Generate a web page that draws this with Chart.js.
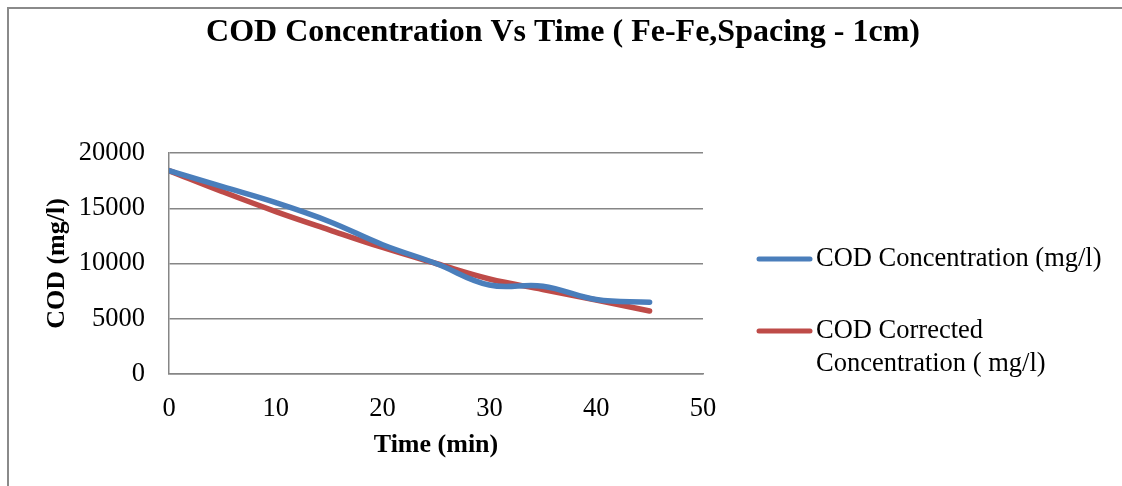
<!DOCTYPE html>
<html>
<head>
<meta charset="utf-8">
<title>COD Concentration Vs Time</title>
<script src="https://cdn.jsdelivr.net/npm/chart.js@4/dist/chart.umd.min.js"></script>
<style>
  html, body { margin: 0; padding: 0; background: #fff; }
  #wrap { width: 1122px; height: 486px; position: relative; }
</style>
</head>
<body>
<div id="wrap"><canvas id="codChart"></canvas></div>
<script>
// sampling times (min) and measured / corrected COD (mg/l)
const times = [0, 5, 10, 15, 20, 25, 30, 35, 40, 45];
const codConc = [18400, 16950, 15500, 13800, 11700, 10000, 8050, 7950, 6750, 6500];
const codCorrected = [18400, 16500, 14700, 13050, 11450, 10000, 8600, 7650, 6700, 5700];

const seriesNames = ['COD Concentration (mg/l)', ['COD Corrected', 'Concentration ( mg/l)']];
const seriesColors = ['#4A7EBB', '#BE4B48'];
const chartTitle = 'COD Concentration Vs Time ( Fe-Fe,Spacing - 1cm)';

const serif = "'Liberation Serif', 'Times New Roman', serif";

function points(ys) {
  return times.map((t, i) => ({ x: t, y: ys[i] }));
}

// grey frame round the whole chart, plus the centred title
const framePlugin = {
  id: 'frame',
  beforeDraw(chart) {
    const ctx = chart.ctx;
    ctx.save();
    ctx.strokeStyle = '#8a8a8a';
    ctx.lineWidth = 2;
    ctx.beginPath();
    ctx.moveTo(8, chart.height);
    ctx.lineTo(8, 8);
    ctx.lineTo(chart.width, 8);
    ctx.stroke();

    ctx.font = 'bold 32px ' + serif;
    ctx.fillStyle = '#000';
    ctx.textAlign = 'center';
    ctx.textBaseline = 'middle';
    ctx.fillText(chartTitle, 563, 33);
    ctx.restore();
  }
};

// legend on the right, second entry wraps onto two lines
const sideLegend = {
  id: 'sideLegend',
  afterDraw(chart) {
    const ctx = chart.ctx;
    const rows = [259, 331];
    ctx.save();
    ctx.font = '26.5px ' + serif;
    ctx.textBaseline = 'middle';
    ctx.fillStyle = '#000';
    rows.forEach((y, i) => {
      ctx.strokeStyle = seriesColors[i];
      ctx.lineWidth = 5;
      ctx.lineCap = 'round';
      ctx.beginPath();
      ctx.moveTo(759, y);
      ctx.lineTo(810, y);
      ctx.stroke();
      const lines = [].concat(seriesNames[i]);
      lines.forEach((txt, j) => ctx.fillText(txt, 816, y + j * 33));
    });
    ctx.restore();
  }
};

const ctx = document.getElementById('codChart').getContext('2d');

const codChart = new Chart(ctx, {
  type: 'scatter',
  data: {
    datasets: [{
      label: 'COD Concentration (mg/l)',
      data: points(codConc),
      borderColor: seriesColors[0],
      backgroundColor: seriesColors[0],
      borderWidth: 5.5,
      showLine: true,
      tension: 0.4,
      pointRadius: 0,
      borderCapStyle: 'round'
    }, {
      label: 'COD Corrected Concentration ( mg/l)',
      data: points(codCorrected),
      borderColor: seriesColors[1],
      backgroundColor: seriesColors[1],
      borderWidth: 5.5,
      showLine: true,
      tension: 0.4,
      pointRadius: 0,
      borderCapStyle: 'round'
    }]
  },
  options: {
    responsive: true,
    maintainAspectRatio: false,
    animation: false,
    layout: { padding: { left: 0, right: 419, top: 153, bottom: 0 } },
    plugins: {
      legend: { display: false },
      tooltip: { enabled: false },
      title: { display: false }
    },
    scales: {
      x: {
        type: 'linear',
        min: 0,
        max: 50,
        ticks: { stepSize: 10, color: '#000', padding: 19, font: { family: serif, size: 26.5 } },
        grid: { display: false, drawTicks: false },
        border: { color: '#868686', width: 1.5 },
        title: {
          display: true,
          text: 'Time (min)',
          color: '#000',
          font: { family: serif, size: 26, weight: 'bold' },
          padding: { top: 0, bottom: 25 }
        },
        afterFit(scale) { scale.height = 112; }
      },
      y: {
        min: 0,
        max: 20000,
        ticks: {
          stepSize: 5000,
          color: '#000',
          padding: 24,
          font: { family: serif, size: 26.5 },
          callback: (v) => String(v)
        },
        grid: { color: '#868686', lineWidth: 1.5, drawTicks: false },
        border: { color: '#868686', width: 1.5 },
        title: {
          display: true,
          text: 'COD (mg/l)',
          color: '#000',
          font: { family: serif, size: 26, weight: 'bold' },
          padding: { top: 42, bottom: 0 }
        },
        afterFit(scale) { scale.width = 169; }
      }
    }
  },
  plugins: [framePlugin, sideLegend]
});
</script>
</body>
</html>
